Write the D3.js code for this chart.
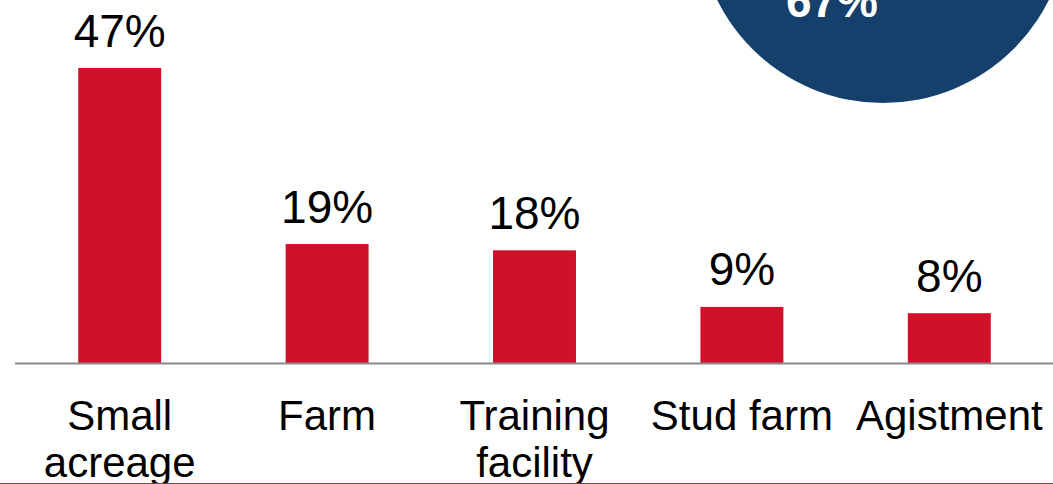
<!DOCTYPE html>
<html>
<head>
<meta charset="utf-8">
<script src="https://cdn.jsdelivr.net/npm/d3@7"></script>
<style>
  html, body { margin: 0; padding: 0; background: #fff; overflow: hidden; }
  svg { display: block; font-family: "Liberation Sans", Arial, sans-serif; }
</style>
</head>
<body>
<svg id="chart" width="1053" height="484"></svg>
<script>
// Property types (share of respondents, %)
const categories = [["Small", "acreage"], ["Farm"], ["Training", "facility"], ["Stud farm"], ["Agistment"]];
const values = [47, 19, 18, 9, 8];
const highlightValue = 67;

const W = 1053, H = 484;
const svg = d3.select("#chart");

const keys = categories.map(c => c.join(" "));
const x = d3.scaleBand()
  .domain(keys)
  .range([16, 1053])
  .paddingInner(0.6)
  .paddingOuter(0.3);

const baseY = 363.5;
const y = d3.scaleLinear().domain([0, 47]).range([baseY, 68]);

// Highlight bubble in the top-right corner
svg.append("circle")
  .attr("cx", 883).attr("cy", -82).attr("r", 185)
  .attr("fill", "#14406b");
svg.append("text")
  .attr("x", 832).attr("y", 17)
  .attr("text-anchor", "middle")
  .attr("font-size", 46).attr("font-weight", "bold")
  .attr("fill", "#fff")
  .text(d3.format("d")(highlightValue) + "%");

// Bars
svg.append("g").selectAll("rect")
  .data(values)
  .join("rect")
  .attr("x", (d, i) => x(keys[i]))
  .attr("width", x.bandwidth())
  .attr("y", d => y(d))
  .attr("height", d => baseY - y(d))
  .attr("fill", "#cf1229");

// Value labels above bars
svg.append("g").selectAll("text")
  .data(values)
  .join("text")
  .attr("x", (d, i) => x(keys[i]) + x.bandwidth() / 2)
  .attr("y", d => y(d) - 21.5)
  .attr("text-anchor", "middle")
  .attr("font-size", 46)
  .attr("fill", "#000")
  .text(d => d + "%");

// Baseline axis
const axis = d3.axisBottom(x).tickSize(0).tickFormat("");
const gAxis = svg.append("g").attr("transform", `translate(0,${baseY})`).call(axis);
gAxis.select(".domain")
  .attr("d", `M15,0H1053`)
  .attr("stroke", "#898989")
  .attr("stroke-width", 1.8);

// Category labels (multi-line)
const labels = svg.append("g").selectAll("text")
  .data(categories)
  .join("text")
  .attr("x", (d, i) => x(keys[i]) + x.bandwidth() / 2)
  .attr("y", 430)
  .attr("text-anchor", "middle")
  .attr("font-size", 42)
  .attr("fill", "#000");
labels.selectAll("tspan")
  .data(d => d)
  .join("tspan")
  .attr("x", function () { return d3.select(this.parentNode).attr("x"); })
  .attr("dy", (d, i) => i === 0 ? 0 : 47)
  .text(d => d);

// Thin rule along the bottom edge
svg.append("line")
  .attr("x1", 0).attr("x2", W)
  .attr("y1", 483.5).attr("y2", 483.5)
  .attr("stroke", "#b5223a").attr("stroke-width", 1);
</script>
</body>
</html>
